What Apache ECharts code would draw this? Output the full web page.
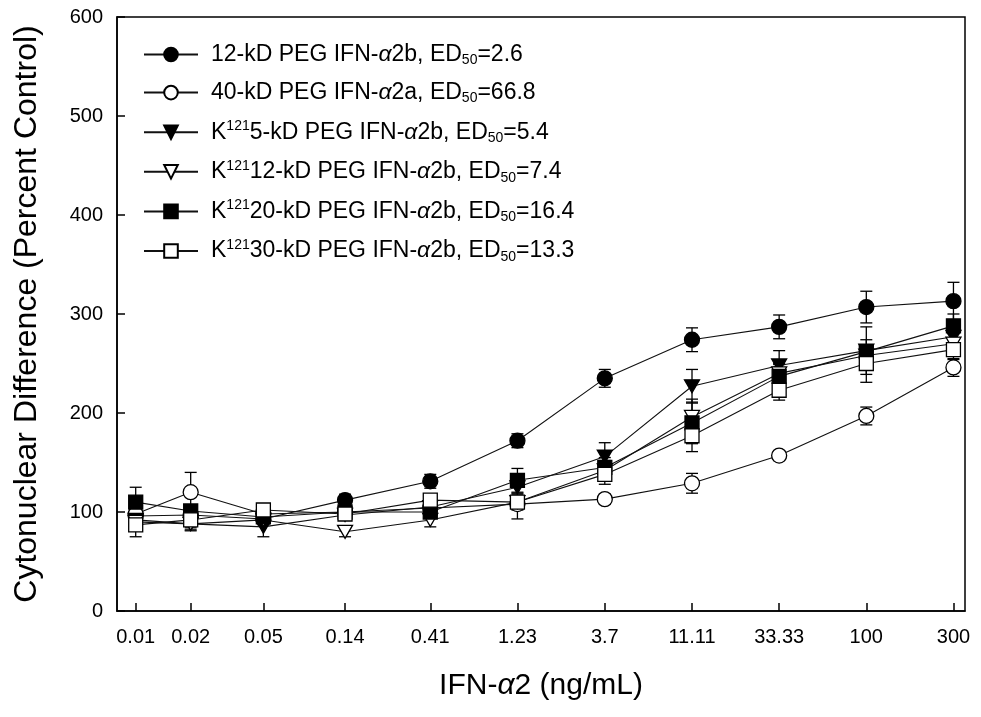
<!DOCTYPE html>
<html>
<head>
<meta charset="utf-8">
<script src="https://cdn.jsdelivr.net/npm/echarts@6/dist/echarts.min.js"></script>
<style>
  html, body { margin: 0; padding: 0; background: #fff; }
  #chart { width: 981px; height: 717px; }
</style>
</head>
<body>
<div id="chart"></div>
<script>
// IFN-α2 concentrations (ng/mL) and their tick labels
const concentrations = [0.01, 0.02, 0.05, 0.14, 0.41, 1.23, 3.7, 11.11, 33.33, 100, 300];
const tickLabels = ['0.01', '0.02', '0.05', '0.14', '0.41', '1.23', '3.7', '11.11', '33.33', '100', '300'];

// Legend parts: lysine site superscript, conjugate, ED50
const siteLabels = ['', '', '121', '121', '121', '121'];
const conjugates = ['12-kD PEG IFN-', '40-kD PEG IFN-', '5-kD PEG IFN-', '12-kD PEG IFN-', '20-kD PEG IFN-', '30-kD PEG IFN-'];
const subtypes = ['2b', '2a', '2b', '2b', '2b', '2b'];
const ed50Values = ['2.6', '66.8', '5.4', '7.4', '16.4', '13.3'];

// Cytonuclear difference (percent control) and standard errors
const peg12 = [96, 97, 93, 112, 131, 172, 235, 274, 287, 307, 313];
const peg12Err = [6, 5, 5, 6, 7, 7, 9, 12, 12, 16, 19];
const peg40 = [98, 120, 98, 100, 104, 108, 113, 129, 157, 197, 246];
const peg40Err = [5, 20, 5, 5, 5, 5, 5, 10, 5, 9, 9];
const k121Peg5 = [92, 88, 85, 97, 105, 125, 156, 227, 248, 263, 277];
const k121Peg5Err = [6, 6, 10, 5, 5, 6, 14, 17, 15, 24, 10];
const k121Peg12 = [90, 88, 92, 80, 92, 110, 142, 196, 240, 258, 270];
const k121Peg12Err = [5, 7, 5, 5, 7, 8, 10, 18, 10, 10, 10];
const k121Peg20 = [110, 101, 95, 100, 100, 132, 145, 190, 237, 262, 288];
const k121Peg20Err = [15, 5, 5, 5, 5, 12, 10, 21, 12, 12, 12];
const k121Peg30 = [87, 92, 102, 98, 112, 110, 138, 177, 223, 250, 264];
const k121Peg30Err = [12, 8, 5, 5, 5, 17, 10, 16, 10, 19, 10];

const yTicks = [0, 100, 200, 300, 400, 500, 600];

const FONT = "'Liberation Sans', Arial, sans-serif";

const seriesValues = [peg12, peg40, k121Peg5, k121Peg12, k121Peg20, k121Peg30];
const seriesErrors = [peg12Err, peg40Err, k121Peg5Err, k121Peg12Err, k121Peg20Err, k121Peg30Err];
const markers = [
  { symbol: 'circle', size: 15, rotate: 0, fill: '#000' },
  { symbol: 'circle', size: 15, rotate: 0, fill: '#fff' },
  { symbol: 'triangle', size: [15, 13], rotate: 180, fill: '#000' },
  { symbol: 'triangle', size: [15, 13], rotate: 180, fill: '#fff' },
  { symbol: 'rect', size: 14, rotate: 0, fill: '#000' },
  { symbol: 'rect', size: 14, rotate: 0, fill: '#fff' }
];

const names = conjugates.map((c, i) =>
  (siteLabels[i] ? 'K' + siteLabels[i] : '') + c + 'α' + subtypes[i] + ', ED50=' + ed50Values[i]);

function legendText(name) {
  const i = names.indexOf(name);
  const sup = siteLabels[i] ? '{t|K}{sup|' + siteLabels[i] + '}' : '';
  return sup + '{t|' + conjugates[i] + '}{g|α}{t|' + subtypes[i] + ', ED}{sub|50}{t|=' + ed50Values[i] + '}';
}

function errorBarItem(params, api) {
  const x = api.value(0);
  const top = api.coord([x, api.value(2)]);
  const bot = api.coord([x, api.value(1)]);
  const hw = 6;
  const style = { stroke: '#000', lineWidth: 1.3 };
  return {
    type: 'group',
    children: [
      { type: 'line', shape: { x1: top[0], y1: top[1], x2: bot[0], y2: bot[1] }, style: style },
      { type: 'line', shape: { x1: top[0] - hw, y1: top[1], x2: top[0] + hw, y2: top[1] }, style: style },
      { type: 'line', shape: { x1: bot[0] - hw, y1: bot[1], x2: bot[0] + hw, y2: bot[1] }, style: style }
    ]
  };
}

const series = [];
seriesValues.forEach((vals, i) => {
  series.push({
    type: 'custom',
    name: names[i] + ' error',
    renderItem: errorBarItem,
    encode: { x: 0, y: [1, 2] },
    data: concentrations.map((c, k) => [c, vals[k] - seriesErrors[i][k], vals[k] + seriesErrors[i][k]]),
    z: 1,
    silent: true
  });
});
seriesValues.forEach((vals, i) => {
  const m = markers[i];
  series.push({
    type: 'line',
    name: names[i],
    data: concentrations.map((c, k) => [c, vals[k]]),
    symbol: m.symbol,
    symbolSize: m.size,
    symbolRotate: m.rotate,
    showSymbol: true,
    lineStyle: { color: '#111', width: 1.1 },
    itemStyle: { color: m.fill, borderColor: '#000', borderWidth: 1.3 },
    emphasis: { disabled: true },
    z: 2
  });
});

const chart = echarts.init(document.getElementById('chart'), null, { renderer: 'canvas' });
chart.setOption({
  animation: false,
  backgroundColor: '#fff',
  textStyle: { fontFamily: FONT },
  grid: {
    left: 117, right: 16, top: 17, bottom: 106,
    show: true, borderColor: '#000', borderWidth: 1.5, backgroundColor: 'transparent'
  },
  legend: {
    data: names,
    orient: 'vertical',
    left: 143,
    top: 43,
    padding: 0,
    itemWidth: 54,
    itemHeight: 17,
    itemGap: 13.6,
    formatter: legendText,
    selectedMode: false,
    textStyle: {
      color: '#000',
      fontFamily: FONT,
      padding: [0, 0, 0, 8],
      rich: {
        t: { fontSize: 23, lineHeight: 26, color: '#000', fontFamily: FONT },
        g: { fontSize: 23, lineHeight: 26, color: '#000', fontFamily: FONT, fontStyle: 'italic' },
        sub: { fontSize: 14, lineHeight: 26, color: '#000', fontFamily: FONT, verticalAlign: 'bottom' },
        sup: { fontSize: 14, lineHeight: 26, color: '#000', fontFamily: FONT, verticalAlign: 'top' }
      }
    }
  },
  xAxis: {
    type: 'log',
    min: 0.0079,
    max: 347,
    name: '{t|IFN-}{g|α}{t|2 (ng/mL)}',
    nameLocation: 'middle',
    nameGap: 60,
    nameTextStyle: {
      rich: {
        t: { fontSize: 30, color: '#000', fontFamily: FONT },
        g: { fontSize: 30, color: '#000', fontFamily: FONT, fontStyle: 'italic' }
      }
    },
    axisLine: { show: true, onZero: false, lineStyle: { color: '#000', width: 1.5 } },
    axisTick: { show: true, inside: true, length: 8, lineStyle: { color: '#000', width: 1.5 }, customValues: concentrations },
    axisLabel: {
      color: '#000', fontSize: 20, fontFamily: FONT, margin: 16,
      customValues: concentrations,
      formatter: function (v) {
        const k = concentrations.findIndex(c => Math.abs(c - v) / c < 1e-6);
        return k >= 0 ? tickLabels[k] : '';
      }
    },
    splitLine: { show: false },
    minorTick: { show: false }
  },
  yAxis: {
    type: 'value',
    min: yTicks[0],
    max: yTicks[yTicks.length - 1],
    interval: 100,
    name: 'Cytonuclear Difference (Percent Control)',
    nameLocation: 'middle',
    nameGap: 74,
    nameTextStyle: { fontSize: 32, color: '#000', fontFamily: FONT },
    axisLine: { show: true, lineStyle: { color: '#000', width: 1.5 } },
    axisTick: { show: true, inside: true, length: 8, lineStyle: { color: '#000', width: 1.5 } },
    axisLabel: { color: '#000', fontSize: 20, fontFamily: FONT, margin: 14 },
    splitLine: { show: false }
  },
  series: series
});
</script>
</body>
</html>
